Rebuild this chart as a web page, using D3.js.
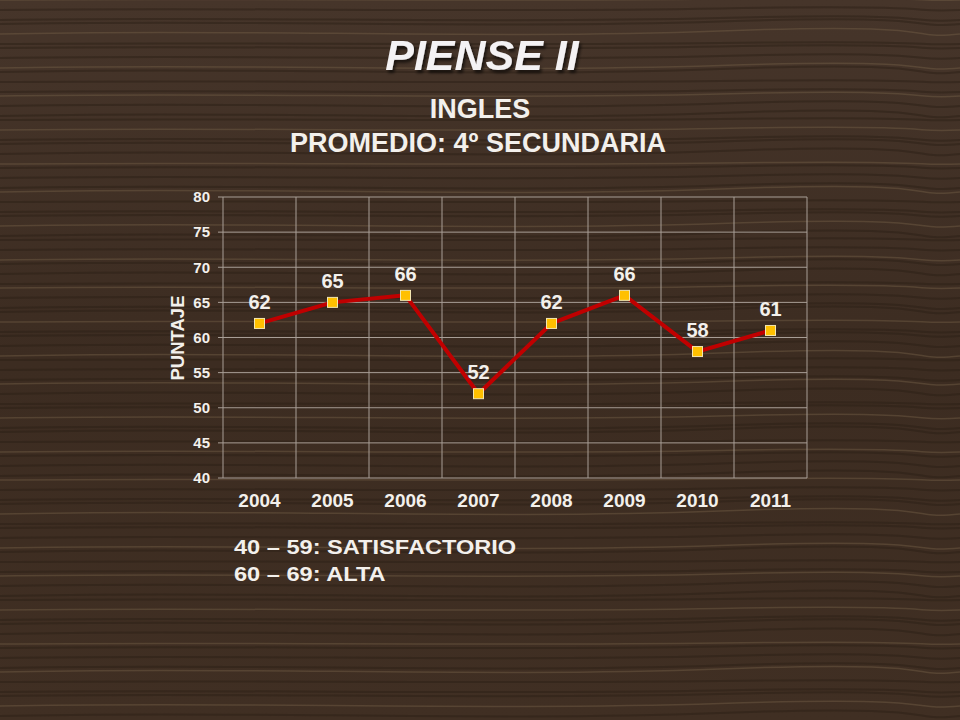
<!DOCTYPE html>
<html>
<head>
<meta charset="utf-8">
<script src="https://cdn.jsdelivr.net/npm/d3@7"></script>
<style>
  body { margin: 0; background: #3d2c20; }
  svg { display: block; font-family: "Liberation Sans", Arial, sans-serif; }
</style>
</head>
<body>
<div id="chart"></div>
<script>
const years = ["2004", "2005", "2006", "2007", "2008", "2009", "2010", "2011"];
const scores = [62, 65, 66, 52, 62, 66, 58, 61];
const yTicks = [40, 45, 50, 55, 60, 65, 70, 75, 80];
const legendLines = ["40 \u2013 59: SATISFACTORIO", "60 \u2013 69: ALTA"];

const w = 960, h = 720;
const plotLeft = 223, plotRight = 807, plotTop = 197, plotBottom = 478;
const textColor = "#f3f0ec";

const svg = d3.select("#chart").append("svg")
  .attr("width", w)
  .attr("height", h);

// wood-ish background
const defs = svg.append("defs");
const grad = defs.append("linearGradient").attr("id", "wood").attr("x1", 0).attr("y1", 0).attr("x2", 0).attr("y2", 1);
grad.append("stop").attr("offset", "0%").attr("stop-color", "#46352a");
grad.append("stop").attr("offset", "50%").attr("stop-color", "#3c2c21");
grad.append("stop").attr("offset", "100%").attr("stop-color", "#402f23");
svg.append("rect").attr("width", w).attr("height", h).attr("fill", "url(#wood)");

const grain = svg.append("g").attr("fill", "none");
for (let i = 0; i < 90; i++) {
  const y0 = i * 8 + (i % 3) * 2;
  const amp = 2 + (i % 5);
  grain.append("path")
    .attr("d", `M0,${y0} C240,${y0 - amp} 480,${y0 + amp} 720,${y0 - amp / 2} S900,${y0 + amp} 960,${y0}`)
    .attr("stroke", i % 4 === 0 ? "#746048" : "#2c1f16")
    .attr("stroke-opacity", i % 4 === 0 ? 0.45 : 0.5)
    .attr("stroke-width", i % 4 === 0 ? 1.5 : 2);
}

const x = d3.scaleBand().domain(years).range([plotLeft, plotRight]);
const y = d3.scaleLinear().domain([40, 80]).range([plotBottom, plotTop]);

// grid
svg.append("g")
  .selectAll("line")
  .data(yTicks)
  .join("line")
  .attr("x1", plotLeft - 5).attr("x2", plotRight)
  .attr("y1", d => y(d)).attr("y2", d => y(d))
  .attr("stroke", "#a89e96").attr("stroke-width", 1);

svg.append("g")
  .selectAll("line")
  .data(years.concat(["end"]))
  .join("line")
  .attr("x1", (d, i) => plotLeft + i * x.bandwidth())
  .attr("x2", (d, i) => plotLeft + i * x.bandwidth())
  .attr("y1", plotTop).attr("y2", plotBottom)
  .attr("stroke", "#a89e96").attr("stroke-width", 1);

// y axis
const yAxis = d3.axisLeft(y).tickValues(yTicks).tickSize(0).tickPadding(13);
const gy = svg.append("g").attr("transform", `translate(${plotLeft},0)`).call(yAxis);
gy.select(".domain").remove();
gy.selectAll("text")
  .attr("fill", textColor)
  .attr("font-size", 15)
  .attr("font-weight", "bold")
  .attr("font-family", "Liberation Sans, Arial, sans-serif");

// x axis
const xAxis = d3.axisBottom(x).tickSize(0).tickPadding(16);
const gx = svg.append("g").attr("transform", `translate(0,${plotBottom})`).call(xAxis);
gx.select(".domain").remove();
gx.selectAll("text")
  .attr("fill", textColor)
  .attr("font-size", 19)
  .attr("font-weight", "bold")
  .attr("font-family", "Liberation Sans, Arial, sans-serif");

svg.append("text")
  .attr("transform", `translate(184,338) rotate(-90)`)
  .attr("text-anchor", "middle")
  .attr("fill", textColor)
  .attr("font-size", 18.5)
  .attr("font-weight", "bold")
  .text("PUNTAJE");

// line
const line = d3.line()
  .x((d, i) => x(years[i]) + x.bandwidth() / 2)
  .y(d => y(d));

svg.append("path")
  .datum(scores)
  .attr("d", line)
  .attr("fill", "none")
  .attr("stroke", "#c00000")
  .attr("stroke-width", 4)
  .attr("stroke-linejoin", "round");

svg.append("g")
  .selectAll("rect")
  .data(scores)
  .join("rect")
  .attr("x", (d, i) => x(years[i]) + x.bandwidth() / 2 - 5)
  .attr("y", d => y(d) - 5)
  .attr("width", 10)
  .attr("height", 10)
  .attr("fill", "#ffc000")
  .attr("stroke", "#f3e6b0")
  .attr("stroke-width", 1);

svg.append("g")
  .selectAll("text")
  .data(scores)
  .join("text")
  .attr("x", (d, i) => x(years[i]) + x.bandwidth() / 2)
  .attr("y", d => y(d) - 14.5)
  .attr("text-anchor", "middle")
  .attr("fill", textColor)
  .attr("font-size", 20)
  .attr("font-weight", "bold")
  .text(d => d);

// titles
const shadow = defs.append("filter").attr("id", "shadow").attr("x", "-10%").attr("y", "-20%").attr("width", "130%").attr("height", "150%");
shadow.append("feDropShadow").attr("dx", 2).attr("dy", 3).attr("stdDeviation", 1.5).attr("flood-color", "#000").attr("flood-opacity", 0.6);

svg.append("text")
  .attr("x", 482).attr("y", 70)
  .attr("text-anchor", "middle")
  .attr("fill", "#f4f2f4")
  .attr("font-size", 43)
  .attr("font-weight", "bold")
  .attr("font-style", "italic")
  .attr("filter", "url(#shadow)")
  .text("PIENSE II");

svg.append("text")
  .attr("x", 480).attr("y", 118)
  .attr("text-anchor", "middle")
  .attr("fill", textColor)
  .attr("font-size", 27)
  .attr("font-weight", "bold")
  .text("INGLES");

svg.append("text")
  .attr("x", 478).attr("y", 152)
  .attr("text-anchor", "middle")
  .attr("fill", textColor)
  .attr("font-size", 27)
  .attr("font-weight", "bold")
  .text("PROMEDIO: 4º SECUNDARIA");

// range notes: text is wider than tall in the picture, so stretch horizontally
svg.append("g")
  .selectAll("text")
  .data(legendLines)
  .join("text")
  .attr("transform", (d, i) => `translate(234,${554 + i * 27}) scale(1.18,1)`)
  .attr("fill", textColor)
  .attr("font-size", 20)
  .attr("font-weight", "bold")
  .text(d => d);
</script>
</body>
</html>
